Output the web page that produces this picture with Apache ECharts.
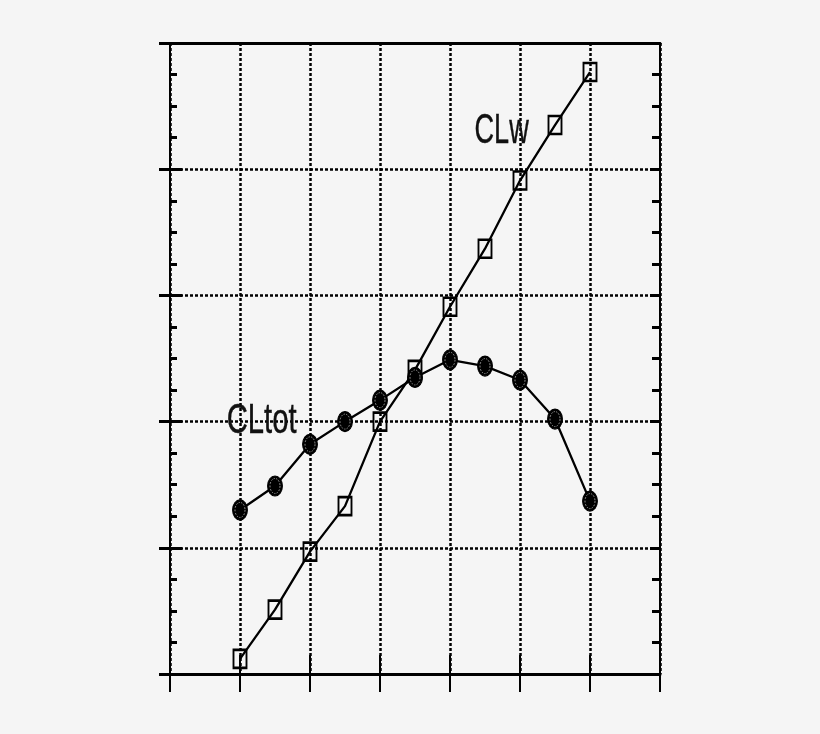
<!DOCTYPE html>
<html>
<head>
<meta charset="utf-8">
<script src="https://cdn.jsdelivr.net/npm/echarts@6/dist/echarts.min.js"></script>
<style>
html,body{margin:0;padding:0;background:#f5f5f5;}
#c{width:820px;height:734px;}
</style>
</head>
<body>
<div id="c"></div>
<script>
const xValues = [1, 1.5, 2, 2.5, 3, 3.5, 4, 4.5, 5, 5.5, 6];
const clw = [0.12, 0.51, 0.97, 1.33, 2.0, 2.41, 2.91, 3.37, 3.91, 4.35, 4.77];
const cltot = [1.30, 1.49, 1.82, 2.0, 2.17, 2.35, 2.49, 2.44, 2.33, 2.02, 1.37];
const seriesNames = ['CLw', 'CLtot'];
const labelAnchors = [[4.35, 4.3], [0.81, 2.0]];

const chart = echarts.init(document.getElementById('c'));
const black = '#000';
const dotted = {type: [3, 2], width: 2.5, color: black};
const pair = (ys) => xValues.map((x, i) => [x, ys[i]]);

chart.setOption({
  backgroundColor: '#f5f5f5',
  animation: false,
  grid: {left: 170, right: 160, top: 43, bottom: 60},
  xAxis: [
    {type: 'value', position: 'bottom', min: 0, max: 7, interval: 1,
     axisLine: {show: true, onZero: false, lineStyle: {color: black, width: 3}},
     axisTick: {show: true, inside: true, length: 19, lineStyle: {color: black, width: 2}},
     axisLabel: {show: false},
     splitLine: {show: true, lineStyle: dotted}},
    {type: 'value', position: 'bottom', min: 0, max: 7, interval: 1,
     axisLine: {show: false},
     axisTick: {show: true, inside: false, length: 18, lineStyle: {color: black, width: 2}},
     axisLabel: {show: false}, splitLine: {show: false}},
    {type: 'value', position: 'top', min: 0, max: 7, interval: 1,
     axisLine: {show: true, onZero: false, lineStyle: {color: black, width: 3}},
     axisTick: {show: false}, axisLabel: {show: false}, splitLine: {show: false}}
  ],
  yAxis: [
    {type: 'value', position: 'left', min: 0, max: 5, interval: 1,
     axisLine: {show: true, onZero: false, lineStyle: {color: black, width: 2}},
     axisTick: {show: true, inside: true, length: 12, lineStyle: {color: black, width: 3}},
     minorTick: {show: true, splitNumber: 4, length: 7, lineStyle: {color: black, width: 3}},
     axisLabel: {show: false},
     splitLine: {show: true, lineStyle: dotted}},
    {type: 'value', position: 'left', min: 0, max: 5, interval: 1,
     axisLine: {show: false},
     axisTick: {show: true, inside: false, length: 11, lineStyle: {color: black, width: 3}},
     axisLabel: {show: false}, splitLine: {show: false}},
    {type: 'value', position: 'right', min: 0, max: 5, interval: 1,
     axisLine: {show: true, onZero: false, lineStyle: {color: black, width: 2}},
     axisTick: {show: true, inside: true, length: 10, lineStyle: {color: black, width: 3}},
     minorTick: {show: true, splitNumber: 4, length: 8, lineStyle: {color: black, width: 3}},
     axisLabel: {show: false}, splitLine: {show: false}}
  ],
  series: [
    {name: seriesNames[0], type: 'line', data: pair(clw), xAxisIndex: 0, yAxisIndex: 0,
     symbol: 'rect', symbolSize: [13, 18], z: 3,
     lineStyle: {color: black, width: 2.3},
     itemStyle: {color: 'rgba(0,0,0,0)', borderColor: black, borderWidth: 2.2}},
    {name: seriesNames[1], type: 'line', data: pair(cltot), xAxisIndex: 0, yAxisIndex: 0,
     symbol: 'circle', symbolSize: [15, 20], z: 4,
     lineStyle: {color: black, width: 2.3},
     itemStyle: {color: black, borderColor: black, borderWidth: 1}},
    {name: seriesNames[1] + '-ring', type: 'scatter', data: pair(cltot), xAxisIndex: 0, yAxisIndex: 0,
     symbol: 'circle', symbolSize: [10, 15], z: 5, silent: true,
     itemStyle: {color: black, borderColor: '#e0e0e0', borderWidth: 0.8, borderType: [1.5, 1.5]}}
  ]
});

const p0 = chart.convertToPixel({xAxisIndex: 0, yAxisIndex: 0}, labelAnchors[0]);
const p1 = chart.convertToPixel({xAxisIndex: 0, yAxisIndex: 0}, labelAnchors[1]);
chart.setOption({
  graphic: [
    {type: 'text', x: p0[0], y: p0[1], scaleX: 0.63, z: 10,
     style: {text: seriesNames[0], font: '43px "Liberation Sans", Arial, sans-serif', fill: '#111',
             stroke: '#111', lineWidth: 0.4, align: 'left', verticalAlign: 'middle'}},
    {type: 'text', x: p1[0], y: p1[1], scaleX: 0.68, z: 10,
     style: {text: seriesNames[1], font: '43px "Liberation Sans", Arial, sans-serif', fill: '#111',
             stroke: '#111', lineWidth: 0.4, align: 'left', verticalAlign: 'middle'}}
  ]
});
</script>
</body>
</html>
